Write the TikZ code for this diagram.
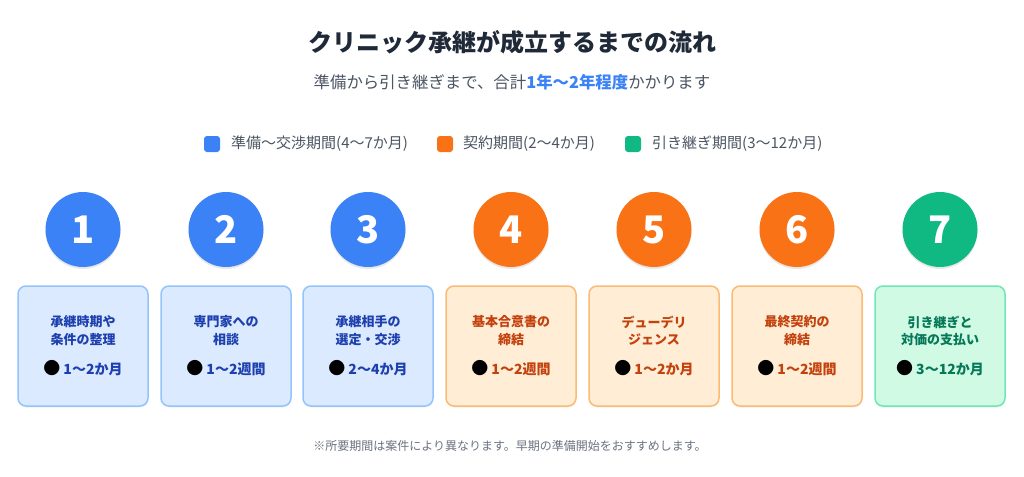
\documentclass[tikz,border=0pt]{standalone}
\usepackage{fontspec}
\setmainfont{Noto Sans CJK JP}
\usetikzlibrary{shadows}
\definecolor{bluec}{HTML}{3B82F6}
\definecolor{orangec}{HTML}{F97316}
\definecolor{greenc}{HTML}{10B981}
\definecolor{bluefill}{HTML}{DBEAFE}
\definecolor{blueline}{HTML}{93C5FD}
\definecolor{bluetext}{HTML}{1E40AF}
\definecolor{orangefill}{HTML}{FFEDD5}
\definecolor{orangeline}{HTML}{FDBA74}
\definecolor{orangetext}{HTML}{C2410C}
\definecolor{greenfill}{HTML}{D1FAE5}
\definecolor{greenline}{HTML}{6EE7B7}
\definecolor{greentext}{HTML}{047857}
\definecolor{titlec}{HTML}{1F2937}
\definecolor{subc}{HTML}{4B5563}
\definecolor{notec}{HTML}{6B7280}
\tikzset{
  numcircle/.style={circle, minimum size=75pt, inner sep=0pt, text=white,
    font=\fontsize{38}{40}\selectfont\bfseries,
    drop shadow={shadow xshift=0pt, shadow yshift=-2pt, opacity=0.18}},
  stepbox/.style={rounded corners=8pt, minimum width=130pt, minimum height=120pt,
    line width=1.5pt, inner sep=0pt,
    drop shadow={shadow xshift=0pt, shadow yshift=-1.5pt, opacity=0.10}},
  boxtext/.style={font=\fontsize{13}{16}\selectfont\bfseries, inner sep=0pt},
  durtext/.style={font=\fontsize{14}{16}\selectfont\bfseries, inner sep=0pt},
  legsq/.style={rounded corners=3pt, minimum size=16pt, inner sep=0pt},
  legtext/.style={anchor=west, font=\fontsize{15}{17}\selectfont, text=subc, inner sep=0pt},
}
\newcommand{\mydot}{{\fontsize{17}{17}\selectfont\color{black}●}\hspace{3pt}}
\begin{document}
\begin{tikzpicture}[x=1pt,y=-1pt]
\useasboundingbox[fill=white] (0,0) rectangle (1024,476);

\node[font=\fontsize{24}{28}\selectfont\bfseries, text=titlec] (title) at (512,42) {クリニック承継が成立するまでの流れ};
\node[font=\fontsize{16.4}{20}\selectfont, text=subc] (sub) at (512,82) {準備から引き継ぎまで、合計{\bfseries\color{bluec}1年〜2年程度}かかります};

% legend
\node[legsq, fill=bluec] (lq1) at (212,144) {};
\node[legtext] (lt1) at (231,144) {準備〜交渉期間(4〜7か月)};
\node[legsq, fill=orangec] (lq2) at (445,144) {};
\node[legtext] (lt2) at (463,144) {契約期間(2〜4か月)};
\node[legsq, fill=greenc] (lq3) at (633,144) {};
\node[legtext] (lt3) at (652,144) {引き継ぎ期間(3〜12か月)};

% circles
\node[numcircle, fill=bluec] (c1) at (83,229.5) {1};
\node[numcircle, fill=bluec] (c2) at (226,229.5) {2};
\node[numcircle, fill=bluec] (c3) at (368,229.5) {3};
\node[numcircle, fill=orangec] (c4) at (511,229.5) {4};
\node[numcircle, fill=orangec] (c5) at (654,229.5) {5};
\node[numcircle, fill=orangec] (c6) at (797,229.5) {6};
\node[numcircle, fill=greenc] (c7) at (940,229.5) {7};

% boxes
\node[stepbox, fill=bluefill, draw=blueline] (b1) at (83,346) {};
\node[stepbox, fill=bluefill, draw=blueline] (b2) at (226,346) {};
\node[stepbox, fill=bluefill, draw=blueline] (b3) at (368,346) {};
\node[stepbox, fill=orangefill, draw=orangeline] (b4) at (511,346) {};
\node[stepbox, fill=orangefill, draw=orangeline] (b5) at (654,346) {};
\node[stepbox, fill=orangefill, draw=orangeline] (b6) at (797,346) {};
\node[stepbox, fill=greenfill, draw=greenline] (b7) at (940,346) {};

% box texts
\foreach \n/\x/\a/\b/\d/\col in {
  1/83/承継時期や/条件の整理/1〜2か月/bluetext,
  2/226/専門家への/相談/1〜2週間/bluetext,
  3/368/承継相手の/選定・交渉/2〜4か月/bluetext,
  4/511/基本合意書の/締結/1〜2週間/orangetext,
  5/654/デューデリ/ジェンス/1〜2か月/orangetext,
  6/797/最終契約の/締結/1〜2週間/orangetext,
  7/940/引き継ぎと/対価の支払い/3〜12か月/greentext}{
  \node[boxtext, text=\col] (ta\n) at (\x,322) {\a};
  \node[boxtext, text=\col] (tb\n) at (\x,340) {\b};
  \node[durtext, text=\col] (td\n) at (\x,368) {\mydot\d};
}

\node[font=\fontsize{12}{14}\selectfont, text=notec] (note) at (510,446) {※所要期間は案件により異なります。早期の準備開始をおすすめします。};
\end{tikzpicture}
\end{document}
